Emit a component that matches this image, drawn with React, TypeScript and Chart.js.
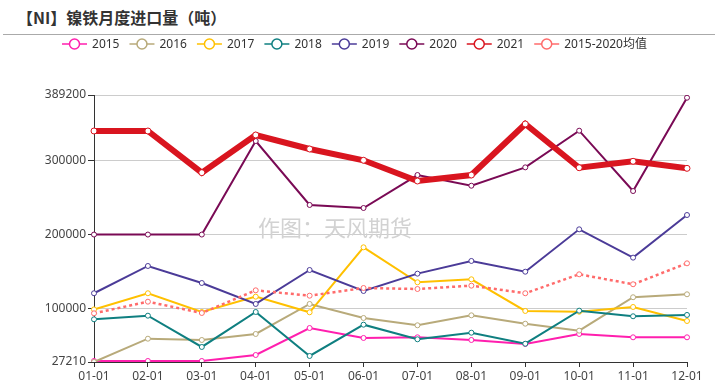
import React, { useEffect, useRef } from 'react';
import { Chart, registerables } from 'chart.js';

Chart.register(...registerables);

const categories = ['01-01', '02-01', '03-01', '04-01', '05-01', '06-01', '07-01', '08-01', '09-01', '10-01', '11-01', '12-01'];
const seriesNames = ['2015', '2016', '2017', '2018', '2019', '2020', '2021', '2015-2020均值'];

const s2015 = [28600, 28600, 28600, 36700, 73300, 59800, 60700, 57050, 51600, 65200, 60700, 60700];
const s2016 = [27210, 58800, 57050, 65200, 105900, 86900, 77000, 90500, 79150, 69700, 115000, 119000];
const s2017 = [98500, 120400, 95000, 115800, 94600, 182700, 135300, 139350, 96400, 95400, 101800, 82800];
const s2018 = [85100, 90000, 47600, 95000, 35400, 77800, 58000, 66950, 52000, 96800, 89200, 91000];
const s2019 = [120400, 157400, 134300, 105900, 151950, 123500, 147000, 164200, 149650, 207100, 168700, 226500];
const s2020 = [200000, 200000, 200000, 326800, 240100, 236000, 280700, 266200, 291100, 340800, 259000, 385500];
const s2021 = [340400, 340400, 283900, 335000, 316000, 300700, 272600, 280700, 349900, 290600, 299300, 289800];
const sAvg = [93200, 109000, 93650, 124400, 117100, 127550, 126200, 130700, 120400, 146100, 132600, 161000];

const yTicks = [27210, 100000, 200000, 300000, 389200];

const colors = ['#ff1fae', '#b8aa7a', '#ffc000', '#0f7f80', '#4b3b98', '#7a0a55', '#d9151f', '#ff6b6b'];

const FONT = '"Noto Sans", "Noto Sans CJK SC", sans-serif';
const CJK = '"Noto Sans CJK SC", "Noto Sans", sans-serif';

const legendPlugin = {
  id: 'customLegend',
  afterDraw(chart: any) {
    const ctx = chart.ctx;
    ctx.save();
    ctx.font = '12px ' + FONT;
    const items = chart.data.datasets.map((ds: any) => ({
      label: ds.label,
      color: ds.borderColor,
      w: ctx.measureText(ds.label).width,
    }));
    const total = items.reduce((s: number, it: any) => s + 30 + it.w, 0) + 10 * (items.length - 1);
    let x = 354.5 - total / 2;
    const y = 44;
    items.forEach((it: any) => {
      ctx.strokeStyle = it.color;
      ctx.lineWidth = 1.5;
      ctx.setLineDash([]);
      ctx.beginPath();
      ctx.moveTo(x, y);
      ctx.lineTo(x + 25, y);
      ctx.stroke();
      ctx.beginPath();
      ctx.arc(x + 12.5, y, 5, 0, Math.PI * 2);
      ctx.fillStyle = '#fff';
      ctx.fill();
      ctx.stroke();
      ctx.fillStyle = '#333';
      ctx.textBaseline = 'middle';
      ctx.textAlign = 'left';
      ctx.fillText(it.label, x + 30, y + 1);
      x += 30 + it.w + 10;
    });
    ctx.restore();
  },
};

const watermarkPlugin = {
  id: 'watermark',
  beforeDatasetsDraw(chart: any) {
    const ctx = chart.ctx;
    ctx.save();
    ctx.font = '22px ' + CJK;
    ctx.fillStyle = '#d2d2d2';
    ctx.textBaseline = 'middle';
    ctx.textAlign = 'left';
    ctx.fillText('作图：天风期货', 258, 228);
    ctx.restore();
  },
};

export default function App() {
  const ref = useRef<HTMLCanvasElement>(null);

  useEffect(() => {
    if (!ref.current) return;
    const values = [s2015, s2016, s2017, s2018, s2019, s2020, s2021, sAvg];
    const datasets = values.map((d, i) => ({
      label: seriesNames[i],
      data: d,
      borderColor: colors[i],
      backgroundColor: '#fff',
      borderWidth: i === 6 ? 6 : i === 7 ? 2.5 : 2,
      borderDash: i === 7 ? [3, 3] : [],
      pointRadius: i === 6 ? 3 : 2.5,
      pointBorderWidth: 1,
      pointBackgroundColor: '#fff',
      pointBorderColor: colors[i],
      tension: 0,
      order: 8 - i,
    }));

    const chart = new Chart(ref.current, {
      type: 'line',
      data: { labels: categories, datasets },
      options: {
        responsive: false,
        animation: false,
        devicePixelRatio: 1,
        layout: { padding: { top: 95, right: 28, bottom: 0, left: 0 } },
        plugins: {
          legend: { display: false },
          tooltip: { enabled: false },
        },
        scales: {
          x: {
            type: 'category',
            offset: false,
            grid: { display: true, drawOnChartArea: false, drawTicks: true, tickLength: 5, tickColor: '#333' },
            border: { color: '#333', width: 1 },
            ticks: { color: '#444', font: { size: 12, family: FONT }, padding: 2, maxRotation: 0, autoSkip: false },
            afterFit: (s: any) => { s.height = 30; },
          },
          y: {
            min: 27210,
            max: 389200,
            afterBuildTicks: (s: any) => { s.ticks = yTicks.map((v) => ({ value: v })); },
            grid: {
              color: (c: any) => (c.tick && c.tick.value === 27210 ? 'rgba(0,0,0,0)' : '#cccccc'),
              tickColor: '#333',
              tickLength: 6,
            },
            border: { color: '#333', width: 1 },
            ticks: {
              color: '#444',
              font: { size: 12, family: FONT },
              padding: 2,
              callback: (v: any) => String(v),
            },
            afterFit: (s: any) => { s.width = 94; },
          },
        },
      } as any,
      plugins: [legendPlugin, watermarkPlugin],
    });
    return () => chart.destroy();
  }, []);

  return (
    <div style={{ position: 'absolute', left: 0, top: 0, width: 715, height: 392, background: '#fff', overflow: 'hidden' }}>
      <div style={{ position: 'absolute', left: 17, top: 6, fontSize: 16, fontWeight: 'bold', lineHeight: '22px', fontFamily: CJK, color: '#333', whiteSpace: 'nowrap' }}>
        【NI】镍铁月度进口量（吨）
      </div>
      <div style={{ position: 'absolute', left: 3, right: 0, top: 34, height: 1, background: '#aaaaaa' }} />
      <canvas ref={ref} width={715} height={392} style={{ position: 'absolute', left: 0, top: 0 }} />
    </div>
  );
}
